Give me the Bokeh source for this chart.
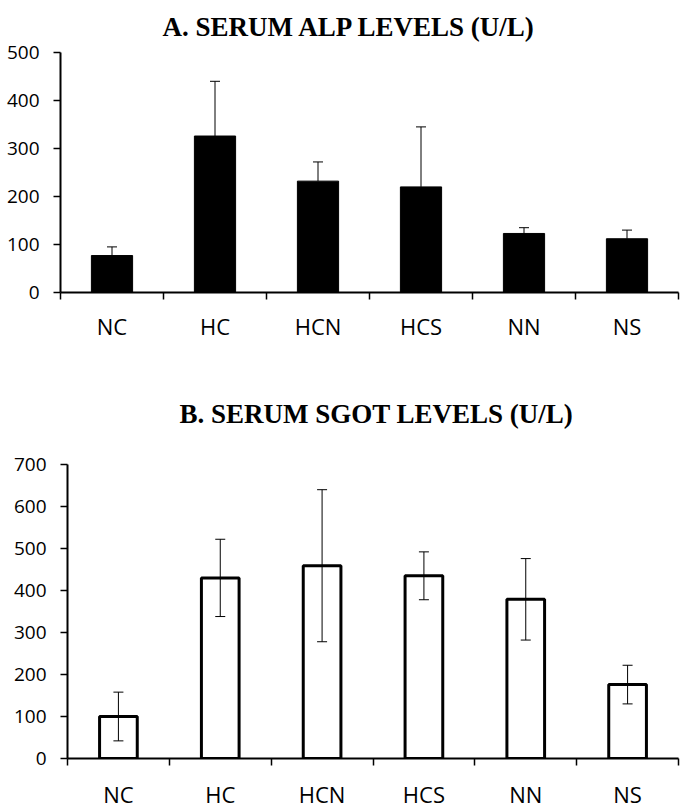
from bokeh.plotting import figure
from bokeh.layouts import column
from bokeh.models import (ColumnDataSource, Range1d, FixedTicker, Whisker, TeeHead)
from bokeh.embed import file_html
from bokeh.resources import INLINE

# ---- data ----
groups = ["NC", "HC", "HCN", "HCS", "NN", "NS"]
alp_mean = [77, 326, 232, 220, 123, 112]
alp_err = [18, 114, 40, 125, 12, 18]
sgot_mean = [100, 430, 459, 435, 379, 176]
sgot_err = [58, 92, 181, 57, 97, 46]
alp_ticks = [0, 100, 200, 300, 400, 500]
sgot_ticks = [0, 100, 200, 300, 400, 500, 600, 700]

TICK_FONT = "Open Sans"
TITLE_FONT = "Liberation Serif"


def make_panel(title, means, errs, yticks, height, border_top, border_bottom,
               border_left, title_offset, title_standoff, title_valign,
               label_standoff, filled, bar_width):
    n = len(groups)
    centers = [i + 0.5 for i in range(n)]
    bounds = list(range(n + 1))
    src = ColumnDataSource(dict(
        x=centers, top=means,
        upper=[m + e for m, e in zip(means, errs)],
        lower=[m - e for m, e in zip(means, errs)] if not filled else means,
    ))
    p = figure(width=680, height=height, output_backend="svg", toolbar_location=None,
               x_range=Range1d(0, n), y_range=Range1d(yticks[0], yticks[-1]),
               min_border_left=border_left, min_border_right=2,
               min_border_top=border_top, min_border_bottom=border_bottom,
               title=title, frame_align=False)
    p.outline_line_color = None
    p.xgrid.visible = False
    p.ygrid.visible = False
    p.background_fill_color = "white"
    p.border_fill_color = "white"

    p.title.align = "left"
    p.title.vertical_align = title_valign
    p.title.text_font = TITLE_FONT
    p.title.text_font_size = "27px"
    p.title.text_font_style = "bold"
    p.title.text_color = "black"
    p.title.offset = title_offset
    p.title.standoff = title_standoff

    if filled:
        p.vbar(x="x", top="top", bottom=0, width=bar_width, source=src,
               fill_color="black", line_color="black", line_width=1)
    else:
        p.vbar(x="x", top="top", bottom=0, width=bar_width, source=src,
               fill_color="white", line_color="black", line_width=3)

    w = Whisker(base="x", upper="upper", lower="lower", source=src,
                line_color="black", line_width=1, level="overlay",
                upper_head=TeeHead(size=10, line_color="black", line_width=1),
                lower_head=None if filled else TeeHead(size=10, line_color="black", line_width=1))
    p.add_layout(w)

    # x axis: labels at centres, ticks at category boundaries
    xa = p.xaxis[0]
    xa.ticker = FixedTicker(ticks=centers, minor_ticks=bounds)
    xa.major_label_overrides = {c: g for c, g in zip(centers, groups)}
    xa.major_tick_line_color = None
    xa.major_tick_out = 0
    xa.major_tick_in = 0
    xa.minor_tick_line_color = "black"
    xa.minor_tick_line_width = 1.5
    xa.minor_tick_out = 7
    xa.minor_tick_in = 0
    xa.axis_line_color = "black"
    xa.axis_line_width = 2
    xa.major_label_text_font = TICK_FONT
    xa.major_label_text_font_size = "22px"
    xa.major_label_text_color = "black"
    xa.major_label_standoff = label_standoff

    ya = p.yaxis[0]
    ya.ticker = FixedTicker(ticks=yticks)
    ya.minor_tick_line_color = None
    ya.major_tick_line_color = "black"
    ya.major_tick_line_width = 1.5
    ya.major_tick_out = 7
    ya.major_tick_in = 0
    ya.axis_line_color = "black"
    ya.axis_line_width = 2
    ya.major_label_text_font = TICK_FONT
    ya.major_label_text_font_size = "19px"
    ya.major_label_text_color = "black"
    ya.major_label_standoff = 14
    return p


pA = make_panel("A. SERUM ALP LEVELS (U/L)", alp_mean, alp_err, alp_ticks,
                height=345, border_top=52, border_bottom=53, border_left=60,
                title_offset=102, title_standoff=18, title_valign="top",
                label_standoff=11, filled=True, bar_width=0.4)
pB = make_panel("B. SERUM SGOT LEVELS (U/L)", sgot_mean, sgot_err, sgot_ticks,
                height=466, border_top=119, border_bottom=52, border_left=67,
                title_offset=112, title_standoff=72, title_valign="bottom",
                label_standoff=13, filled=False, bar_width=0.37)

layout = column(pA, pB, spacing=0)
open("out.html", "w").write(file_html(layout, INLINE))
